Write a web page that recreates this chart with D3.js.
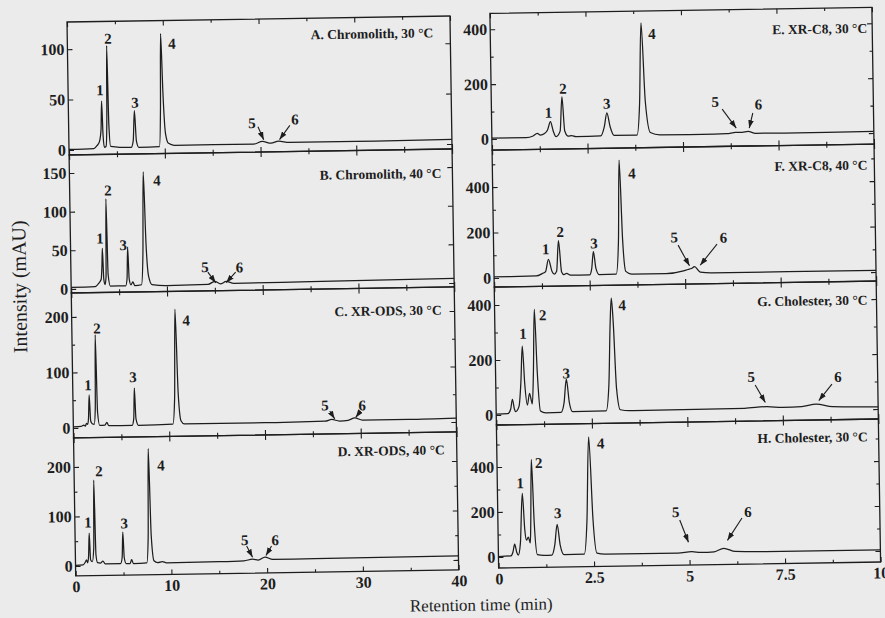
<!DOCTYPE html>
<html>
<head>
<meta charset="utf-8">
<script src="https://cdn.jsdelivr.net/npm/d3@7"></script>
<style>
  html, body { margin: 0; padding: 0; background: #ebebeb; }
  svg { display: block; }
</style>
</head>
<body>
<svg id="chart" width="885" height="618"></svg>
<script>
// ---- Chromatogram traces: [retention time (min), intensity (mAU)] ----
const traceA = [[0,0.5],[2.6,1],[2.95,4],[3.2,8],[3.38,20],[3.48,48],[3.58,14],[3.7,2],[3.88,3],[4.0,30],[4.1,103],[4.2,25],[4.35,3],[6.5,1.5],[6.72,8],[6.89,38],[7.05,8],[7.3,1.5],[9.45,2],[9.62,40],[9.75,114],[9.9,55],[10.1,15],[10.4,5],[11,3],[19.3,3],[20.2,5.5],[21.1,3.5],[21.9,5.5],[23,4],[30,4],[40,4.5]];
const traceB = [[0,2],[2.5,2.5],[2.9,7],[3.15,12],[3.25,30],[3.32,52],[3.42,12],[3.55,5],[3.66,15],[3.77,116],[3.88,18],[4.1,3],[5.7,3],[5.85,12],[5.96,53],[6.07,12],[6.25,4],[6.45,8],[6.65,3],[7.35,4],[7.55,45],[7.71,150],[7.88,60],[8.1,15],[8.45,4],[10,2.5],[14.3,3],[15.0,7],[15.6,3.5],[16.2,6.5],[17,4],[25,4.5],[40,6]];
const traceC = [[0,2],[0.8,2.5],[1.1,5],[1.25,3],[1.38,8],[1.5,6],[1.6,18],[1.7,59],[1.82,12],[1.98,7],[2.18,6],[2.32,35],[2.43,167],[2.55,28],[2.75,4],[3.3,4],[3.5,9],[3.7,3],[6.15,3],[6.32,15],[6.43,70],[6.55,15],[6.8,3],[10.4,4],[10.62,50],[10.8,211],[11.0,60],[11.25,10],[11.6,4],[20,4],[26.3,5],[27.0,8],[27.8,5],[28.7,6],[29.4,10],[30.2,6],[35,6],[40,7]];
const traceD = [[0,1],[0.8,2],[1.05,8],[1.15,12],[1.28,6],[1.38,20],[1.48,66],[1.58,12],[1.76,8],[1.93,35],[2.04,173],[2.15,22],[2.3,6],[2.6,5],[2.87,9],[3.1,3],[4.7,3],[4.88,15],[4.99,67],[5.1,15],[5.3,3],[5.7,3],[5.87,11],[6.05,3],[7.45,4],[7.63,55],[7.78,235],[7.95,60],[8.2,8],[8.6,4],[9.07,6],[9.5,3.5],[15,4],[17.6,5],[18.5,8],[19.1,6],[19.8,12],[20.6,7],[25,7],[40,8]];
const traceE = [[0,3],[0.9,3],[1.08,9],[1.19,18],[1.27,12],[1.38,17],[1.46,30],[1.54,60],[1.61,25],[1.68,5],[1.79,25],[1.85,150],[1.91,25],[2.0,6],[2.09,8],[2.2,4],[2.85,5],[2.95,40],[3.02,89],[3.1,38],[3.2,6],[3.8,6],[3.88,120],[3.95,415],[4.03,130],[4.15,15],[4.4,6],[5.5,5],[6.15,6],[6.38,10],[6.55,10],[6.71,13],[6.9,6],[8,5],[10,6]];
const traceF = [[0,5],[1.1,6],[1.27,17],[1.35,25],[1.43,78],[1.52,25],[1.58,13],[1.64,25],[1.70,160],[1.77,22],[1.83,10],[1.9,15],[2.0,7],[2.5,7],[2.56,35],[2.61,109],[2.67,35],[2.75,8],[3.2,9],[3.27,150],[3.32,510],[3.38,160],[3.45,20],[3.6,8],[4.5,7],[4.96,18],[5.08,24],[5.17,28],[5.25,36],[5.4,12],[5.7,8],[10,7]];
const traceG = [[0,3],[0.3,4],[0.38,20],[0.43,56],[0.48,20],[0.51,11],[0.6,30],[0.66,120],[0.71,249],[0.76,110],[0.82,34],[0.88,77],[0.95,38],[0.99,150],[1.04,382],[1.09,160],[1.16,12],[1.3,5],[1.7,6],[1.78,40],[1.85,126],[1.92,40],[2.0,8],[2.88,9],[2.96,100],[3.02,330],[3.06,418],[3.1,330],[3.16,90],[3.25,12],[3.5,8],[6.5,10],[7.08,15],[7.5,11],[8.0,13],[8.38,21],[8.8,11],[10,8]];
const traceH = [[0,2],[0.33,4],[0.38,20],[0.43,56],[0.48,20],[0.52,7],[0.58,60],[0.65,281],[0.7,120],[0.74,73],[0.79,86],[0.84,60],[0.86,150],[0.9,431],[0.95,150],[1.02,8],[1.2,4],[1.4,5],[1.48,50],[1.55,141],[1.62,50],[1.72,6],[2.25,7],[2.33,150],[2.41,528],[2.49,160],[2.58,10],[2.8,5],[4.7,5],[5.06,10],[5.3,6],[5.65,8],[5.9,23],[6.2,8],[7,5],[10,5]];

// ---- Peak numbers: [label, time, intensity] ----
const peaksA = [['1',3.33,59],['2',4.25,110],['3',6.97,46],['4',10.93,104],['5',19.15,24],['6',23.65,27]];
const peaksB = [['1',3.09,65],['2',4.0,127],['3',5.5,56],['4',9.14,139],['5',14.0,25.6],['6',17.6,24.8]];
const peaksC = [['1',1.6,77],['2',2.63,179],['3',6.31,90],['4',11.95,191],['5',26.3,34],['6',30.2,33]];
const peaksD = [['1',1.37,88],['2',2.6,191],['3',5.14,85],['4',9.09,201],['5',17.7,47],['6',20.9,46]];
const peaksE = [['1',1.49,94],['2',1.88,180],['3',3.02,123],['4',4.23,375],['5',5.86,123],['6',6.99,112]];
const peaksF = [['1',1.36,124],['2',1.75,199],['3',2.63,146],['4',3.65,451],['5',4.73,167],['6',6.02,163]];
const peaksG = [['1',0.73,295],['2',1.26,361],['3',1.85,148],['4',3.34,393],['5',6.69,125],['6',8.96,120]];
const peaksH = [['1',0.6,328],['2',1.09,416],['3',1.57,192],['4',2.72,498],['5',4.66,188],['6',6.55,184]];

// ---- Arrows to minor peaks 5 and 6: [tail time, tail mAU, tip time, tip mAU] ----
const arrowsA = [[19.77,20,20.35,7],[23.1,21,22.0,7]];
const arrowsB = [[14.3,19,15.1,5],[17.2,18.5,16.2,5]];
const arrowsC = [[26.8,23,27.3,9],[30.0,22,29.5,11]];
const arrowsD = [[17.9,35,18.5,12],[20.5,34,19.9,15]];
const arrowsE = [[6.04,96,6.4,26],[6.84,80,6.74,25]];
const arrowsF = [[4.83,132,5.12,40],[5.85,134,5.4,42]];
const arrowsG = [[6.79,94,7.05,30],[8.8,93,8.45,34]];
const arrowsH = [[4.76,152,4.98,52],[6.39,156,6.0,58]];

// ---- Panel titles and axes ----
const titles = ['A. Chromolith, 30 °C','B. Chromolith, 40 °C','C. XR-ODS, 30 °C','D. XR-ODS, 40 °C',
                'E. XR-C8, 30 °C','F. XR-C8, 40 °C','G. Cholester, 30 °C','H. Cholester, 30 °C'];
const yDomains = [[-5,127],[-5.2,173.4],[-18,243.2],[-20.2,258.6],[-40,458],[-39.6,563],[-36.4,465.5],[-48.9,586.7]];
const yTicksMajor = [[0,50,100],[0,50,100,150],[0,100,200],[0,100,200],[0,200,400],[0,200,400],[0,200,400],[0,200,400]];
const yTicksMinor = [[],[],[50,150],[50,150],[100,300],[100,300,500],[100,300],[100,300,500]];
const xDomainLeft = [0,40];
const xTicksLeft = [0,10,20,30,40];
const xMinorLeft = [5,15,25,35];
const xDomainRight = [0,10];
const xTicksRight = [0,2.5,5,7.5,10];
const xMinorRight = [1.25,3.75,6.25,8.75];

const traces = [traceA,traceB,traceC,traceD,traceE,traceF,traceG,traceH];
const peaks = [peaksA,peaksB,peaksC,peaksD,peaksE,peaksF,peaksG,peaksH];
const arrows = [arrowsA,arrowsB,arrowsC,arrowsD,arrowsE,arrowsF,arrowsG,arrowsH];

// ---- Layout: panel frames (px) and title anchors ----
const frames = [
  {x0:67,  x1:450, y0:22,    y1:155,   tx:433, ty:38.7},
  {x0:67,  x1:450, y0:155,   y1:293,   tx:439, ty:179.2},
  {x0:67,  x1:450, y0:293,   y1:438,   tx:437, ty:315.9},
  {x0:67,  x1:450, y0:438,   y1:576,   tx:438, ty:455.9},
  {x0:490, x1:872, y0:20,    y1:156.7, tx:867, ty:40.9},
  {x0:490, x1:872, y0:156.7, y1:293.7, tx:865, ty:177.6},
  {x0:490, x1:872, y0:293.7, y1:431.7, tx:863, ty:312.6},
  {x0:490, x1:872, y0:431.7, y1:574.7, tx:861, ty:449.3}
];
const bottomPanels = [3, 7];

const ink = '#1d1d1d';
const serif = '"Liberation Serif","Times New Roman",Times,serif';

const svg = d3.select('#chart');
svg.append('rect').attr('width',885).attr('height',618).attr('fill','#ebebeb');

const defs = svg.append('defs');
defs.append('marker')
  .attr('id','arrowHead')
  .attr('viewBox','0 0 10 7')
  .attr('refX',10).attr('refY',3.5)
  .attr('markerWidth',8).attr('markerHeight',5.6)
  .attr('markerUnits','userSpaceOnUse')
  .attr('orient','auto')
  .append('path').attr('d','M0,0L10,3.5L0,7Z').attr('fill',ink);

// the printed figure sits slightly tilted on the page
const root = svg.append('g').attr('transform','rotate(-0.9,67,22)');

function tidy(axisSel, fontSize) {
  axisSel.select('.domain').remove();
  axisSel.selectAll('line').attr('stroke',ink).attr('stroke-width',1.1);
  axisSel.selectAll('text')
    .attr('font-family',serif).attr('font-weight','bold')
    .attr('font-size',fontSize).attr('fill',ink);
}

frames.forEach((f, i) => {
  const left = i < 4;
  const x = d3.scaleLinear().domain(left ? xDomainLeft : xDomainRight).range([f.x0, f.x1]);
  const y = d3.scaleLinear().domain(yDomains[i]).range([f.y1, f.y0]);
  const majX = left ? xTicksLeft : xTicksRight;
  const minX = left ? xMinorLeft : xMinorRight;
  const g = root.append('g');

  defs.append('clipPath').attr('id','clip' + i)
    .append('rect').attr('x',f.x0).attr('y',f.y0).attr('width',f.x1 - f.x0).attr('height',f.y1 - f.y0);

  // top and bottom time ticks (pointing inward)
  tidy(g.append('g').attr('transform',`translate(0,${f.y0})`)
    .call(d3.axisTop(x).tickValues(majX).tickSizeInner(-5).tickSizeOuter(0).tickFormat('')), 15);
  tidy(g.append('g').attr('transform',`translate(0,${f.y0})`)
    .call(d3.axisTop(x).tickValues(minX).tickSizeInner(-3).tickSizeOuter(0).tickFormat('')), 15);
  const isBottom = bottomPanels.includes(i);
  tidy(g.append('g').attr('transform',`translate(0,${f.y1})`)
    .call(d3.axisBottom(x).tickValues(majX).tickSizeInner(-5).tickSizeOuter(0).tickPadding(5)
      .tickFormat(isBottom ? (d => String(d)) : '')), 16);
  tidy(g.append('g').attr('transform',`translate(0,${f.y1})`)
    .call(d3.axisBottom(x).tickValues(minX).tickSizeInner(-3).tickSizeOuter(0).tickFormat('')), 15);

  // intensity ticks, labelled on the left, mirrored on the right
  tidy(g.append('g').attr('transform',`translate(${f.x0},0)`)
    .call(d3.axisLeft(y).tickValues(yTicksMajor[i]).tickSizeInner(-5).tickSizeOuter(0).tickPadding(3)
      .tickFormat(d => String(d))), 16);
  tidy(g.append('g').attr('transform',`translate(${f.x0},0)`)
    .call(d3.axisLeft(y).tickValues(yTicksMinor[i]).tickSizeInner(-3).tickSizeOuter(0).tickFormat('')), 15);
  tidy(g.append('g').attr('transform',`translate(${f.x1},0)`)
    .call(d3.axisRight(y).tickValues(yTicksMajor[i]).tickSizeInner(-5).tickSizeOuter(0).tickFormat('')), 15);
  tidy(g.append('g').attr('transform',`translate(${f.x1},0)`)
    .call(d3.axisRight(y).tickValues(yTicksMinor[i]).tickSizeInner(-3).tickSizeOuter(0).tickFormat('')), 15);

  // frame
  g.append('rect')
    .attr('x',f.x0).attr('y',f.y0).attr('width',f.x1 - f.x0).attr('height',f.y1 - f.y0)
    .attr('fill','none').attr('stroke',ink).attr('stroke-width',1.3);

  // chromatogram
  const line = d3.line().x(d => x(d[0])).y(d => y(d[1])).curve(d3.curveMonotoneX);
  g.append('path')
    .datum(traces[i])
    .attr('clip-path',`url(#clip${i})`)
    .attr('d',line)
    .attr('fill','none').attr('stroke',ink).attr('stroke-width',1.25)
    .attr('stroke-linejoin','round');

  // peak numbers
  g.selectAll('text.peak').data(peaks[i]).join('text')
    .attr('class','peak')
    .attr('x',d => x(d[1])).attr('y',d => y(d[2]))
    .attr('dy','0.35em').attr('text-anchor','middle')
    .attr('font-family',serif).attr('font-weight','bold').attr('font-size',15).attr('fill',ink)
    .text(d => d[0]);

  // arrows to peaks 5 and 6
  g.selectAll('line.arrow').data(arrows[i]).join('line')
    .attr('class','arrow')
    .attr('x1',d => x(d[0])).attr('y1',d => y(d[1]))
    .attr('x2',d => x(d[2])).attr('y2',d => y(d[3]))
    .attr('stroke',ink).attr('stroke-width',1.1)
    .attr('marker-end','url(#arrowHead)');

  // panel title
  g.append('text')
    .attr('x',f.tx).attr('y',f.ty).attr('dy','0.33em')
    .attr('text-anchor','end')
    .attr('font-family',serif).attr('font-weight','bold').attr('font-size',13.5).attr('fill',ink)
    .text(titles[i]);
});

// shared axis titles
root.append('text')
  .attr('transform','translate(15,286) rotate(-90)')
  .attr('dy','0.35em').attr('text-anchor','middle')
  .attr('font-family',serif).attr('font-size',20).attr('fill',ink)
  .text('Intensity (mAU)');
root.append('text')
  .attr('x',472).attr('y',611).attr('dy','0.35em').attr('text-anchor','middle')
  .attr('font-family',serif).attr('font-size',17).attr('fill',ink)
  .text('Retention time (min)');
</script>
</body>
</html>
